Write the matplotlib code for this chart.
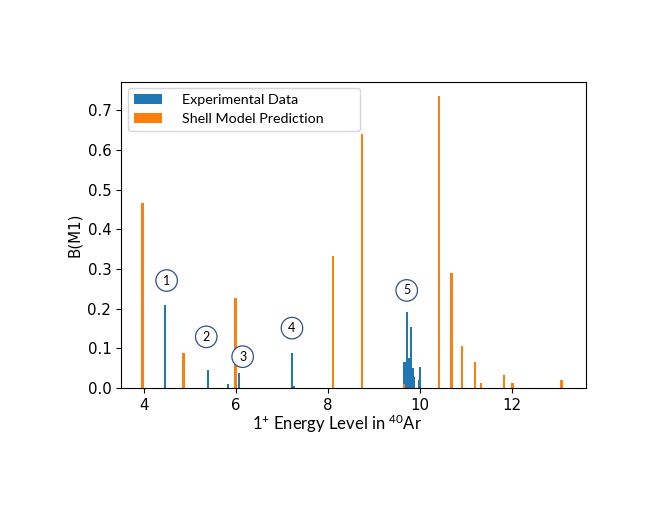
import matplotlib
matplotlib.use("Agg")
import matplotlib.pyplot as plt

plt.rcParams['mathtext.fontset'] = 'custom'
plt.rcParams['mathtext.rm'] = 'Lato'

# Experimental data
exp_E = [4.47, 5.39, 5.84, 6.08, 7.23, 7.27, 9.65, 9.68, 9.72, 9.75, 9.78, 9.81, 9.84, 9.87, 9.97, 10.0]
exp_B = [0.210, 0.045, 0.010, 0.038, 0.087, 0.006, 0.066, 0.066, 0.192, 0.075, 0.072, 0.154, 0.050, 0.028, 0.020, 0.053]

# Shell model prediction
sm_E = [3.98, 4.86, 5.99, 8.11, 8.74, 9.65, 10.41, 10.68, 10.91, 11.19, 11.32, 11.82, 12.00, 13.07]
sm_B = [0.466, 0.087, 0.226, 0.334, 0.641, 0.011, 0.736, 0.291, 0.105, 0.065, 0.012, 0.032, 0.012, 0.020]

# Circled state labels
lab_text = ['1', '2', '3', '4', '5']
lab_E = [4.50, 5.36, 6.15, 7.22, 9.71]
lab_B = [0.271, 0.129, 0.079, 0.151, 0.246]

fig = plt.figure(figsize=(6.54, 5.05), dpi=100)
ax = fig.add_axes([0.185, 0.2317, 0.711, 0.6063])

ax.bar(exp_E, exp_B, width=0.045, color='#1f77b4', label='Experimental Data')
ax.bar(sm_E, sm_B, width=0.06, color='#ff7f0e', label='Shell Model Prediction')

for t, x, y in zip(lab_text, lab_E, lab_B):
    ax.text(x, y, t, ha='center', va='center', fontsize=9, family='Lato',
            bbox=dict(boxstyle='circle,pad=0.38', fc='white', ec='#2f4f8f', lw=0.9))

ax.set_xlim(3.51, 13.60)
ax.set_ylim(0, 0.772)
ax.set_xticks([4, 6, 8, 10, 12])
ax.set_yticks([0.0, 0.1, 0.2, 0.3, 0.4, 0.5, 0.6, 0.7])
ax.set_ylabel('B(M1)', fontsize=10.8)
ax.tick_params(labelsize=10.8)

leg = ax.legend(loc='upper left', prop={'family': 'Lato', 'size': 10.3},
                handletextpad=1.4, borderaxespad=0, mode='expand',
                bbox_to_anchor=(0.015, 0.8235, 0.499, 0.1565))

fig.text(0.515, 0.148, r'$\mathregular{1^{+}}$ Energy Level in $\mathregular{^{40}}$Ar',
         ha='center', va='baseline', fontsize=12, family='Lato')

fig.savefig('out.png', dpi=100)
